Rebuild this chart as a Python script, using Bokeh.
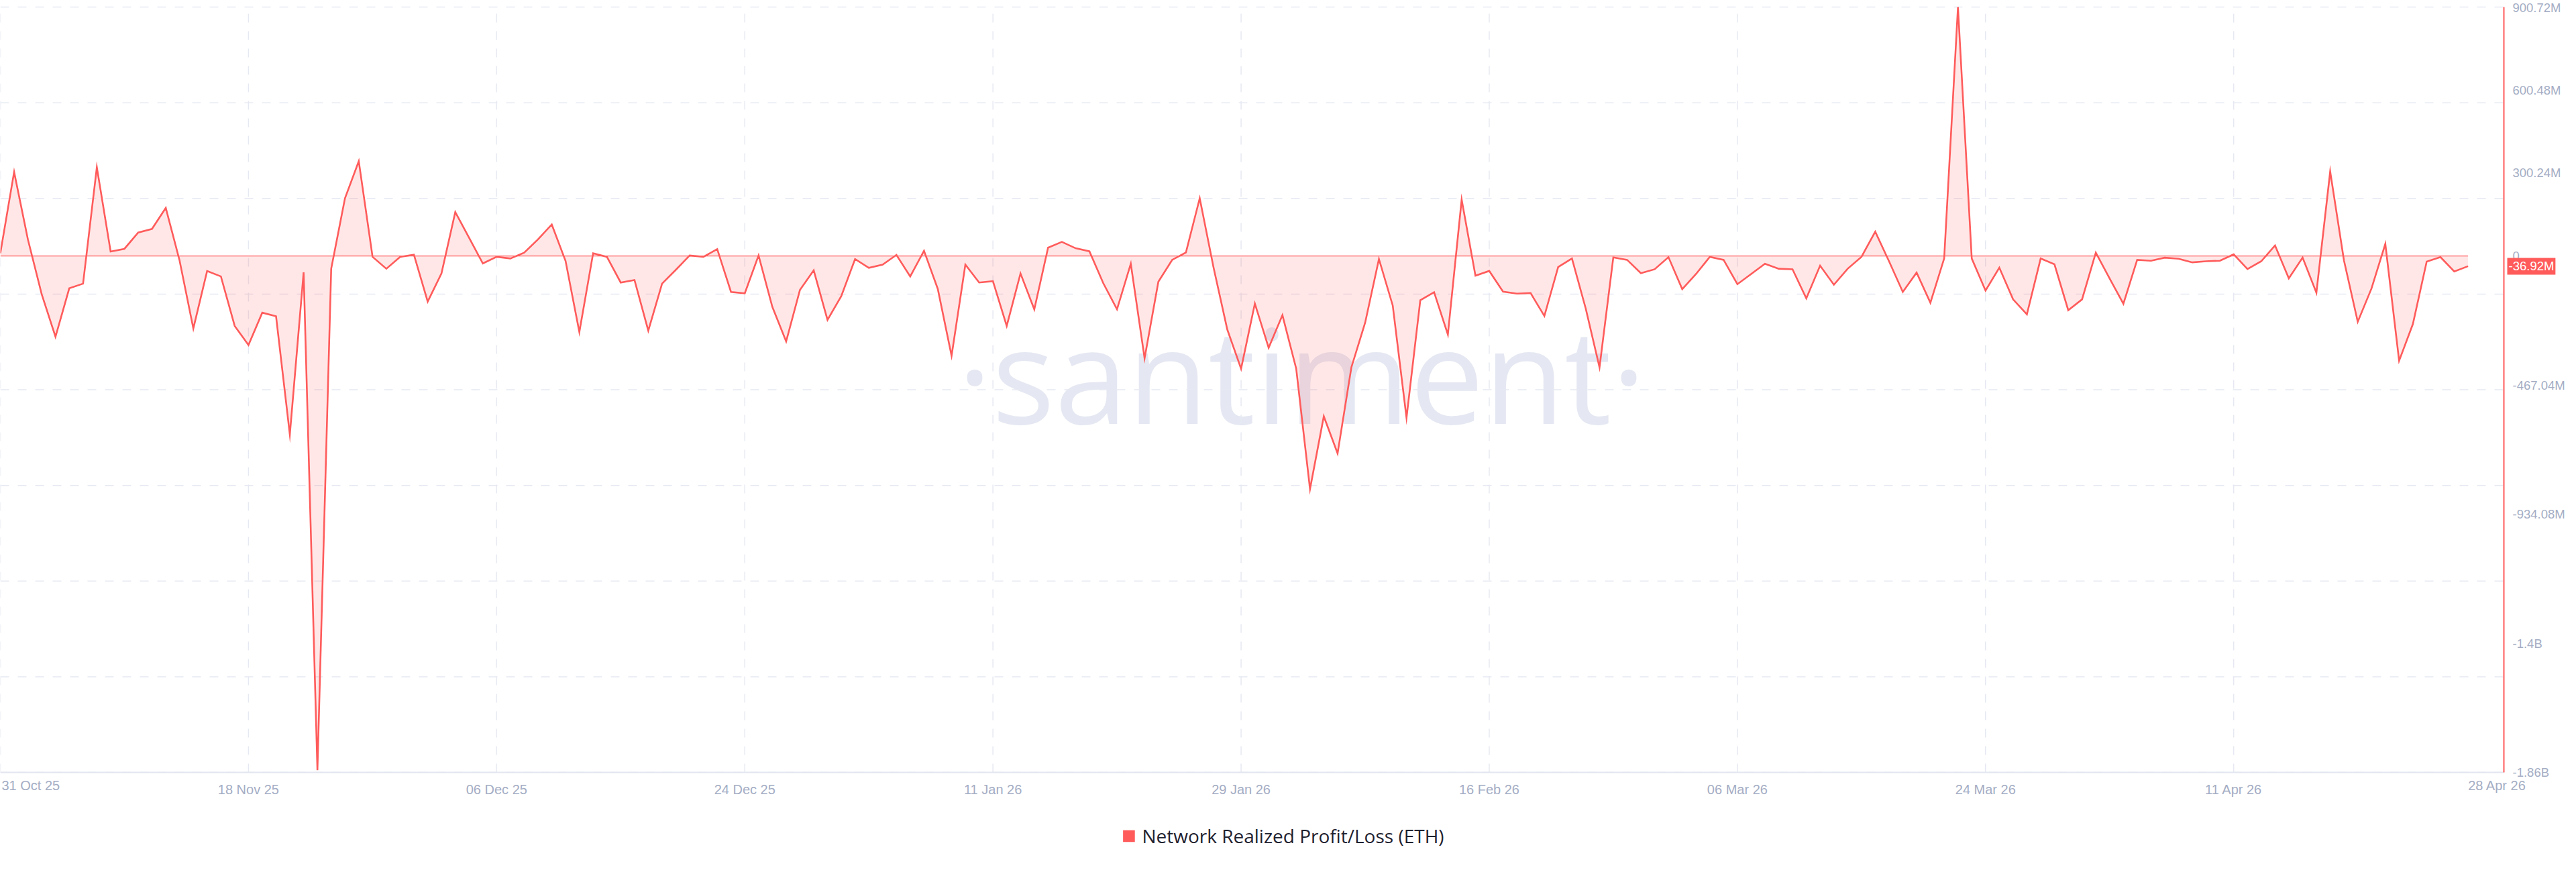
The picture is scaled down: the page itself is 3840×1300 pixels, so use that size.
import pandas as pd
from bokeh.plotting import figure
from bokeh.models import (Range1d, FixedTicker, DatetimeTickFormatter, CustomJSTickFormatter,
                          Label, Legend, LegendItem, ColumnDataSource)
from bokeh.embed import file_html
from bokeh.resources import INLINE
from bokeh.core.properties import value

# ---------------- data ----------------
start_date = "2025-10-31"
n_days = 180
# Network Realized Profit/Loss (ETH), in millions, daily from 31 Oct 25 to 28 Apr 26
pnl_m = [
    10, 304, 60, -138, -292, -117, -100, 321, 16, 26,
    85, 98, 174, -16, -262, -54, -74, -253, -322, -205,
    -218, -646, -59, -1860, -46, 209, 343, -3, -46, -3,
    5, -165, -63, 159, 66, -27, -3, -9, 12, 60,
    114, -18, -275, 10, -3, -96, -87, -270, -100, -50,
    2, -3, 25, -130, -135, 2, -184, -309, -123, -52,
    -231, -145, -11, -43, -31, 4, -74, 19, -119, -361,
    -31, -96, -91, -253, -63, -193, 30, 51, 28, 17,
    -98, -193, -28, -370, -93, -14, 13, 209, -41, -266,
    -408, -172, -332, -214, -408, -843, -580, -714, -403, -241,
    -11, -179, -585, -160, -131, -284, 204, -71, -54, -129,
    -136, -134, -217, -40, -9, -190, -403, -5, -14, -62,
    -48, -4, -120, -65, -3, -14, -102, -65, -28, -46,
    -48, -153, -35, -104, -46, -3, 88, -19, -130, -60,
    -169, -9, 900.72, -9, -125, -42, -157, -211, -9, -30,
    -196, -157, 12, -81, -173, -14, -17, -6, -10, -23,
    -19, -17, 6, -47, -19, 38, -81, -6, -133, 306,
    -16, -238, -117, 44, -379, -246, -20, -4, -56, -36.92,
]
x_tick_dates = ["2025-11-18", "2025-12-06", "2025-12-24", "2026-01-11", "2026-01-29",
                "2026-02-16", "2026-03-06", "2026-03-24", "2026-04-11"]
x_grid_dates = ["2025-10-31"] + x_tick_dates
first_date_label = "31 Oct 25"
last_date_label = "28 Apr 26"
y_tick_vals = [900.72, 600.48, 300.24, 0, -467.04, -934.08, -1401.12, -1868.16]
y_tick_labels = ["900.72M", "600.48M", "300.24M", "0", "-467.04M", "-934.08M", "-1.4B", "-1.86B"]
last_value_label = "-36.92M"
series_name = "Network Realized Profit/Loss (ETH)"
watermark = "\u00b7santiment\u00b7"

# ---------------- styling / layout ----------------
RED = "#ff5b5b"
TICK_COLOR = "#a4adc4"
GRID_COLOR = "#e6e9f2"
FONT = "Liberation Sans"

FRAME_W = 3824
AXIS_PX = 3732            # value axis position, px from the frame's left edge
SPAN_DAYS = 181.6         # days between first date and value axis
TOP_PAD = 10              # frame room above ymax for the top value label
DATA_H = 1141             # px between ymax and ymin
BELOW_H = 121             # frame room below ymin for date labels and legend
FRAME_H = TOP_PAD + DATA_H + BELOW_H

dates = pd.date_range(start_date, periods=n_days, freq="D")
src = ColumnDataSource(dict(x=dates, y=pnl_m, zero=[0] * n_days))

def ms(d):
    return pd.Timestamp(d).value / 1e6

day_ms = 86400000.0
px_per_day = AXIS_PX / SPAN_DAYS
x0 = ms(start_date)
x_axis_pos = x0 + SPAN_DAYS * day_ms
x_end = x0 + (FRAME_W / px_per_day) * day_ms
ymin, ymax = y_tick_vals[-1], y_tick_vals[0]
m_per_px = (ymax - ymin) / DATA_H
y_top = ymax + TOP_PAD * m_per_px
y_start = ymin - BELOW_H * m_per_px

p = figure(x_axis_type="datetime", frame_width=FRAME_W, frame_height=FRAME_H,
           x_range=Range1d(x0, x_end), y_range=Range1d(y_start, y_top),
           y_axis_location="right", output_backend="svg", toolbar_location=None,
           min_border_left=0, min_border_top=0, min_border_right=0, min_border_bottom=0,
           outline_line_color=None, background_fill_color="white")
p.xgrid.visible = False
p.ygrid.visible = False

# watermark
p.text(x=[x0 + 94.4 * day_ms], y=[-422], text=[watermark],
       text_font=value("Open Sans"), text_font_size="196px",
       text_color="#e5e8f2", text_align="center", text_baseline="alphabetic", level="image")

# dashed grid, limited to the plotting area
grid_y = [ymax - k * (ymax - ymin) / 8 for k in range(9)]
grid_x = [ms(d) for d in x_grid_dates]
p.segment(x0=[x0] * len(grid_y), x1=[x_axis_pos] * len(grid_y), y0=grid_y, y1=grid_y,
          line_color=GRID_COLOR, line_width=1.5, line_dash="13 13", level="underlay")
p.segment(x0=grid_x, x1=grid_x, y0=[ymin] * len(grid_x), y1=[ymax] * len(grid_x),
          line_color=GRID_COLOR, line_width=1.5, line_dash="13 13", level="underlay")

# area, baseline and line
p.varea(x="x", y1="zero", y2="y", source=src, fill_color=RED, fill_alpha=0.15)
p.line(x="x", y="zero", source=src, line_color=RED, line_width=1.2)
p.line(x="x", y="y", source=src, line_color=RED, line_width=2.6, line_join="miter")

# x axis
xa = p.xaxis[0]
xa.fixed_location = ymin
xa.bounds = (x0, x_axis_pos)
xa.ticker = FixedTicker(ticks=[ms(d) for d in x_tick_dates])
xa.formatter = DatetimeTickFormatter(days="%d %b %y", months="%d %b %y", years="%d %b %y")
xa.major_label_text_font = FONT
xa.major_label_text_font_size = "20px"
xa.major_label_text_color = TICK_COLOR
xa.major_label_standoff = 8
xa.major_tick_line_color = None
xa.minor_tick_line_color = None
xa.axis_line_color = "#e3e6ef"
xa.axis_line_width = 2

# y axis (right)
ya = p.yaxis[0]
ya.fixed_location = x_axis_pos
ya.bounds = (ymin, ymax)
ya.ticker = FixedTicker(ticks=y_tick_vals)
ya.formatter = CustomJSTickFormatter(args=dict(vals=y_tick_vals, labs=y_tick_labels), code="""
    let best = 0, d = Infinity;
    for (let i = 0; i < vals.length; i++) {
        const e = Math.abs(vals[i] - tick);
        if (e < d) { d = e; best = i; }
    }
    return labs[best];
""")
ya.major_label_text_font = FONT
ya.major_label_text_font_size = "18.5px"
ya.major_label_text_color = TICK_COLOR
ya.major_label_standoff = 7
ya.major_tick_line_color = None
ya.minor_tick_line_color = None
ya.axis_line_color = RED
ya.axis_line_width = 2

# edge date labels
p.add_layout(Label(x=x0, y=ymin, x_offset=2, y_offset=-19, text=first_date_label,
                   text_font=FONT, text_font_size="20px", text_color=TICK_COLOR,
                   text_align="left", text_baseline="middle"))
p.add_layout(Label(x=x_axis_pos, y=ymin, x_offset=-10, y_offset=-19, text=last_date_label,
                   text_font=FONT, text_font_size="20px", text_color=TICK_COLOR,
                   text_align="center", text_baseline="middle"))

# last value badge
p.add_layout(Label(x=x_axis_pos, y=pnl_m[-1], x_offset=5, text=last_value_label,
                   text_font=FONT, text_font_size="18.5px", text_color="white",
                   text_align="left", text_baseline="middle",
                   background_fill_color=RED, padding=2))

# legend (inside the extended frame, under the date labels)
nan = float("nan")
dummy = p.quad(left=[nan], right=[nan], top=[nan], bottom=[nan],
               fill_color=RED, line_color=None)
legend = Legend(items=[LegendItem(label=series_name, renderers=[dummy])],
                location="bottom_center", orientation="horizontal",
                label_text_font="Open Sans", label_text_font_size="28px",
                label_text_color="#1f2230", glyph_width=22, glyph_height=22,
                label_standoff=9, border_line_color=None, background_fill_alpha=0,
                padding=6, margin=7)
p.add_layout(legend)

open("out.html", "w").write(file_html(p, INLINE))
